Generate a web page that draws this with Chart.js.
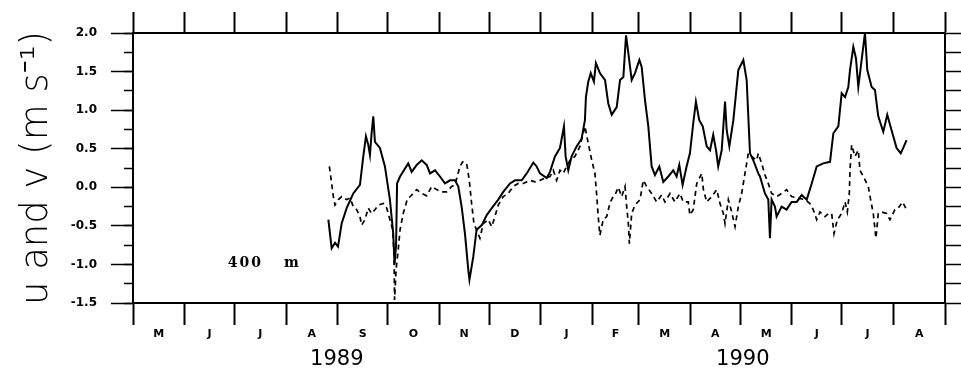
<!DOCTYPE html>
<html>
<head>
<meta charset="utf-8">
<script src="https://cdn.jsdelivr.net/npm/chart.js@4.4.0/dist/chart.umd.min.js"></script>
<style>
html,body{margin:0;padding:0;background:#fff;}
#wrap{width:961px;height:377px;position:relative;}
</style>
</head>
<body>
<div id="wrap"><canvas id="c" width="961" height="377"></canvas></div>
<script>
// Day offsets counted from 1 May 1989
const monthStarts = [0,31,61,92,123,153,184,214,245,276,304,335,365,396,426,457,488];
const monthLabels = ['M','J','J','A','S','O','N','D','J','F','M','A','M','J','J','A'];
const yearLabels = ['1989','1990'];
const yearSpans = [[0,245],[245,488]];
const yMajorTicks = [-1.5,-1.0,-0.5,0.0,0.5,1.0,1.5,2.0];
const yMinorTicks = [-1.5,-1.25,-1.0,-0.75,-0.5,-0.25,0.0,0.25,0.5,0.75,1.0,1.25,1.5,1.75,2.0];
const yTitle = 'u and v (m s\u207B\u00B9)';
const depthLabel = '400 m';
const depthLabelAt = [57, -0.98];

// u (solid)
const uDays = [117.4,119.4,121.4,123.2,125.4,128.4,132.4,136.4,138.4,140.0,
141.4,142.4,143.4,144.4,145.4,148.4,151.4,154.4,156.4,157.2,
158.1,158.7,160.5,165.4,167.5,170.5,173.5,176.5,178.5,181.5,
184.5,187.5,190.5,193.5,195.5,197.5,199.5,201.5,202.2,204.5,
206.5,209.6,212.6,215.6,219.5,222.5,226.6,229.6,233.6,236.6,
240.6,242.6,244.6,248.6,250.6,253.6,256.6,259.0,260.0,261.6,
263.6,266.6,269.6,271.6,272.2,273.6,275.1,277.0,278.2,280.6,
283.7,285.6,287.7,290.7,292.7,294.7,296.3,297.7,299.7,301.7,
304.3,305.7,307.7,309.7,311.7,313.7,316.3,318.7,321.7,324.7,
326.7,328.3,330.3,332.7,334.7,336.7,338.3,340.3,342.4,344.8,
346.8,348.7,350.4,351.7,353.8,355.8,356.8,358.4,360.8,363.8,
366.8,368.8,370.8,372.8,375.8,376.8,379.8,381.8,382.8,383.8,
385.8,386.8,389.8,392.8,395.8,398.9,401.9,404.9,407.9,410.9,
414.8,418.9,420.9,423.9,425.9,427.9,429.9,430.9,432.9,434.5,
435.9,437.9,439.9,441.3,443.9,445.9,447.9,450.9,453.3,455.9,
458.9,461.4,462.9,464.9];
const uVals = [-0.42,-0.79,-0.72,-0.77,-0.47,-0.27,-0.08,0.03,0.40,0.66,
0.55,0.42,0.70,0.92,0.59,0.51,0.27,-0.16,-0.60,-1.00,
-0.75,0.05,0.14,0.31,0.20,0.29,0.35,0.29,0.18,0.22,
0.14,0.05,0.09,0.09,0.01,-0.25,-0.60,-1.07,-1.20,-0.90,
-0.55,-0.49,-0.36,-0.27,-0.16,-0.06,0.05,0.09,0.09,0.18,
0.32,0.27,0.18,0.12,0.20,0.40,0.51,0.79,0.40,0.22,
0.40,0.53,0.63,0.87,1.17,1.37,1.48,1.37,1.61,1.48,
1.39,1.09,0.94,1.04,1.39,1.43,1.97,1.74,1.39,1.48,
1.65,1.56,1.13,0.79,0.27,0.16,0.27,0.07,0.14,0.22,
0.14,0.29,0.03,0.27,0.44,0.83,1.11,0.87,0.79,0.53,
0.48,0.68,0.48,0.27,0.48,1.11,0.74,0.53,0.87,1.52,
1.65,1.39,0.44,0.35,0.18,0.14,-0.08,-0.16,-0.66,-0.16,
-0.25,-0.38,-0.25,-0.29,-0.19,-0.19,-0.10,-0.16,0.05,0.27,
0.31,0.33,0.70,0.79,1.22,1.17,1.30,1.52,1.82,1.67,
1.30,1.65,2.00,1.52,1.30,1.26,0.92,0.72,0.94,0.74,
0.51,0.44,0.51,0.61];

// v (dashed)
const vDays = [118.0,119.4,120.4,121.4,123.4,125.4,128.4,130.4,132.4,134.4,
136.4,137.4,139.4,141.4,143.4,145.4,147.4,150.4,152.5,154.4,
156.1,156.9,157.2,158.1,159.4,160.5,162.4,164.8,167.5,170.5,
173.5,176.5,179.5,182.5,185.5,188.5,191.5,193.5,196.5,198.1,
200.5,202.1,203.5,204.9,208.5,210.5,213.5,215.6,217.5,219.5,
222.5,225.5,228.5,231.6,234.6,238.6,241.6,244.6,247.6,250.6,
252.6,254.6,256.6,258.6,260.6,262.6,265.6,268.6,271.6,273.6,
275.7,277.6,278.6,279.6,280.6,282.6,284.7,286.7,288.6,289.7,
291.6,293.7,295.7,296.7,297.7,298.3,299.7,301.7,304.7,306.7,
308.7,311.7,314.7,317.7,319.7,322.7,325.7,328.7,330.7,333.7,
334.7,336.7,338.8,341.8,342.8,344.8,347.8,350.8,352.8,354.8,
355.8,357.8,359.8,361.8,363.8,365.8,367.8,369.8,371.8,374.8,
375.8,377.8,379.8,381.8,383.8,386.8,389.8,392.8,395.8,399.8,
403.8,406.8,408.8,410.9,412.9,415.9,417.9,419.9,421.3,423.3,
425.9,427.9,429.3,430.5,430.9,431.9,433.9,435.9,436.9,438.9,
441.9,443.3,444.9,446.5,447.9,449.9,452.9,454.9,457.9,459.9,
462.5,464.9];
const vVals = [0.27,0.05,-0.12,-0.23,-0.16,-0.12,-0.16,-0.14,-0.25,-0.29,
-0.38,-0.49,-0.42,-0.27,-0.34,-0.29,-0.23,-0.21,-0.27,-0.42,
-0.55,-0.90,-1.46,-1.07,-0.81,-0.55,-0.34,-0.16,-0.10,-0.03,
-0.08,-0.11,0.01,-0.03,-0.06,-0.06,0.01,0.03,0.27,0.33,
0.31,0.09,-0.21,-0.47,-0.66,-0.47,-0.42,-0.51,-0.38,-0.23,
-0.12,-0.08,0.01,0.05,0.05,0.09,0.07,0.09,0.12,0.14,
0.22,0.09,0.22,0.18,0.27,0.35,0.40,0.53,0.79,0.57,
0.35,0.18,-0.08,-0.38,-0.62,-0.42,-0.38,-0.20,-0.12,-0.10,
0.00,-0.12,0.01,-0.25,-0.47,-0.73,-0.34,-0.23,-0.16,0.09,
0.01,-0.08,-0.19,-0.10,-0.19,-0.08,-0.19,-0.08,-0.19,-0.19,
-0.36,-0.29,0.05,0.18,-0.03,-0.19,-0.12,-0.03,-0.21,-0.34,
-0.47,-0.16,-0.32,-0.51,-0.25,-0.08,0.18,0.44,0.40,0.35,
0.44,0.31,0.16,0.05,-0.08,-0.12,-0.08,-0.03,-0.12,-0.14,
-0.16,-0.21,-0.29,-0.42,-0.32,-0.38,-0.34,-0.34,-0.60,-0.42,
-0.34,-0.19,-0.32,-0.08,0.22,0.55,0.40,0.48,0.22,0.14,
0.01,-0.16,-0.34,-0.66,-0.34,-0.32,-0.34,-0.42,-0.29,-0.27,
-0.19,-0.29];

const monthCenters = monthLabels.map((_, i) => (monthStarts[i] + monthStarts[i + 1]) / 2);
const yearCenters = yearSpans.map(s => (s[0] + s[1]) / 2);
const xMin = monthStarts[0], xMax = monthStarts[monthStarts.length - 1];
const yMin = yMajorTicks[0], yMax = yMajorTicks[yMajorTicks.length - 1];
const toPts = (xs, ys) => xs.map((x, i) => ({x: x, y: ys[i]}));
const asTicks = arr => arr.map(v => ({value: v}));

const depthLabelPlugin = {
  id: 'depthLabel',
  afterDatasetsDraw(chart) {
    const {ctx, scales} = chart;
    const px = scales.x.getPixelForValue(depthLabelAt[0]);
    const py = scales.y.getPixelForValue(depthLabelAt[1]);
    ctx.save();
    ctx.font = 'bold 14px "DejaVu Serif"';
    try { ctx.letterSpacing = '2px'; ctx.wordSpacing = '14px'; } catch (e) {}
    ctx.fillStyle = '#000';
    ctx.textAlign = 'left';
    ctx.textBaseline = 'middle';
    ctx.fillText(depthLabel, px, py);
    ctx.restore();
  }
};

new Chart(document.getElementById('c'), {
  type: 'line',
  data: {
    datasets: [
      {label: 'u', data: toPts(uDays, uVals), borderColor: '#000', borderWidth: 2,
       pointRadius: 0, tension: 0, fill: false, xAxisID: 'x', yAxisID: 'y'},
      {label: 'v', data: toPts(vDays, vVals), borderColor: '#000', borderWidth: 1.7,
       borderDash: [5, 4], pointRadius: 0, tension: 0, fill: false, xAxisID: 'x', yAxisID: 'y'}
    ]
  },
  options: {
    responsive: false,
    animation: false,
    devicePixelRatio: 1,
    layout: {padding: 0},
    plugins: {legend: {display: false}, tooltip: {enabled: false}},
    scales: {
      x: {
        type: 'linear', position: 'bottom', weight: 0, min: xMin, max: xMax,
        afterBuildTicks: s => { s.ticks = asTicks(monthStarts.concat(monthCenters).sort((a, b) => a - b)); },
        afterFit: s => { s.height = 44; },
        ticks: {
          autoSkip: false, maxRotation: 0, minRotation: 0, padding: 3, color: '#000',
          font: {family: 'DejaVu Sans', size: 11, weight: 'bold'},
          callback: v => { const i = monthCenters.indexOf(v); return i >= 0 ? monthLabels[i] : ''; }
        },
        grid: {
          drawOnChartArea: false, tickLength: 22, tickWidth: 2,
          tickColor: c => (c.tick && monthCenters.indexOf(c.tick.value) >= 0) ? 'rgba(0,0,0,0)' : '#000'
        },
        border: {display: true, color: '#000', width: 2}
      },
      x2: {
        type: 'linear', position: 'bottom', weight: 1, min: xMin, max: xMax,
        afterBuildTicks: s => { s.ticks = asTicks(yearCenters); },
        afterFit: s => { s.height = 30; },
        ticks: {
          autoSkip: false, maxRotation: 0, minRotation: 0, padding: 0, color: '#000',
          font: {family: 'DejaVu Sans', size: 21, weight: 'normal'},
          callback: (v, i) => yearLabels[i]
        },
        grid: {display: false, drawTicks: false},
        border: {display: false}
      },
      xTop: {
        type: 'linear', position: 'top', min: xMin, max: xMax,
        afterBuildTicks: s => { s.ticks = asTicks(monthStarts); },
        afterFit: s => { s.height = 33; },
        ticks: {display: false},
        grid: {drawOnChartArea: false, tickLength: 21, tickWidth: 2, tickColor: '#000'},
        border: {display: true, color: '#000', width: 2}
      },
      y: {
        type: 'linear', position: 'left', weight: 1, min: yMin, max: yMax,
        afterBuildTicks: s => { s.ticks = asTicks(yMajorTicks); },
        afterFit: s => { s.width = 133; },
        ticks: {
          padding: 14, color: '#000', autoSkip: false,
          font: {family: 'DejaVu Sans', size: 12, weight: 'bold'},
          callback: v => Number(v).toFixed(1)
        },
        grid: {drawOnChartArea: false, tickLength: 22, tickWidth: 1.5, tickColor: '#000'},
        border: {display: true, color: '#000', width: 2},
        title: {
          display: true, text: yTitle, color: '#000',
          font: {family: 'DejaVu Sans', size: 37, weight: '200'},
          padding: {top: 15, bottom: 0}
        }
      },
      yMinor: {
        type: 'linear', position: 'left', weight: 0, min: yMin, max: yMax,
        afterBuildTicks: s => { s.ticks = asTicks(yMinorTicks); },
        afterFit: s => { s.width = 0; },
        ticks: {display: false},
        grid: {drawOnChartArea: false, tickLength: 9, tickWidth: 1.5, tickColor: '#000'},
        border: {display: false}
      },
      y2: {
        type: 'linear', position: 'right', min: yMin, max: yMax,
        afterBuildTicks: s => { s.ticks = asTicks(yMinorTicks); },
        afterFit: s => { s.width = 16; },
        ticks: {display: false},
        grid: {drawOnChartArea: false, tickLength: 16, tickWidth: 1.5, tickColor: '#000'},
        border: {display: true, color: '#000', width: 2}
      }
    }
  },
  plugins: [depthLabelPlugin]
});
</script>
</body>
</html>
